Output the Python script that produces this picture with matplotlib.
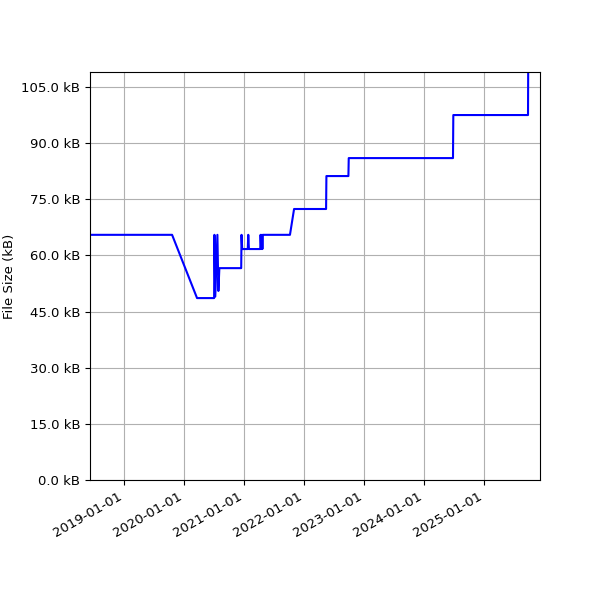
import pandas as pd
import matplotlib
matplotlib.use("Agg")
from matplotlib import pyplot as plt
import matplotlib.dates as mdates
from matplotlib.ticker import FuncFormatter

plt.rcParams['font.size'] = 9.5

# file size history (kB)
dates = [
    "2018-06-06", "2019-10-19", "2020-03-19", "2020-07-01", "2020-07-03",
    "2020-07-08", "2020-07-21", "2020-07-27", "2020-08-02", "2020-12-13",
    "2020-12-15", "2020-12-19", "2021-01-22", "2021-01-25", "2021-01-29",
    "2021-04-08", "2021-04-10", "2021-04-14", "2021-04-18", "2021-04-21",
    "2021-04-24", "2021-10-06", "2021-10-31", "2022-05-14", "2022-05-16",
    "2022-09-27", "2022-09-29", "2024-06-25", "2024-06-27", "2025-09-25",
    "2025-09-26",
]
sizes_kb = [
    65.5, 65.5, 48.6, 48.6, 65.5,
    49.0, 65.5, 50.5, 56.6, 56.6,
    65.5, 61.7, 61.7, 65.5, 61.7,
    61.7, 65.5, 61.7, 65.5, 61.7,
    65.5, 65.5, 72.4, 72.4, 81.2,
    81.2, 86.0, 86.0, 97.5, 97.5,
    109.0,
]

x = pd.to_datetime(dates)

fig, ax = plt.subplots(figsize=(6, 6), dpi=100)
ax.plot(x, sizes_kb, color="b", linewidth=1.5)

ax.set_ylim(0, max(sizes_kb))
ax.set_xlim(pd.Timestamp("2018-06-06"), pd.Timestamp("2025-12-07"))
ax.yaxis.set_major_locator(plt.MultipleLocator(15))
ax.yaxis.set_major_formatter(FuncFormatter(lambda v, p: "%.1f kB" % v))
ax.xaxis.set_major_locator(mdates.YearLocator())
ax.xaxis.set_major_formatter(mdates.DateFormatter("%Y-%m-%d"))
ax.set_ylabel("File Size (kB)")
ax.grid(True)

fig.autofmt_xdate()
plt.subplots_adjust(left=0.15, right=0.9, top=0.88, bottom=0.2)
plt.savefig("out.png")
